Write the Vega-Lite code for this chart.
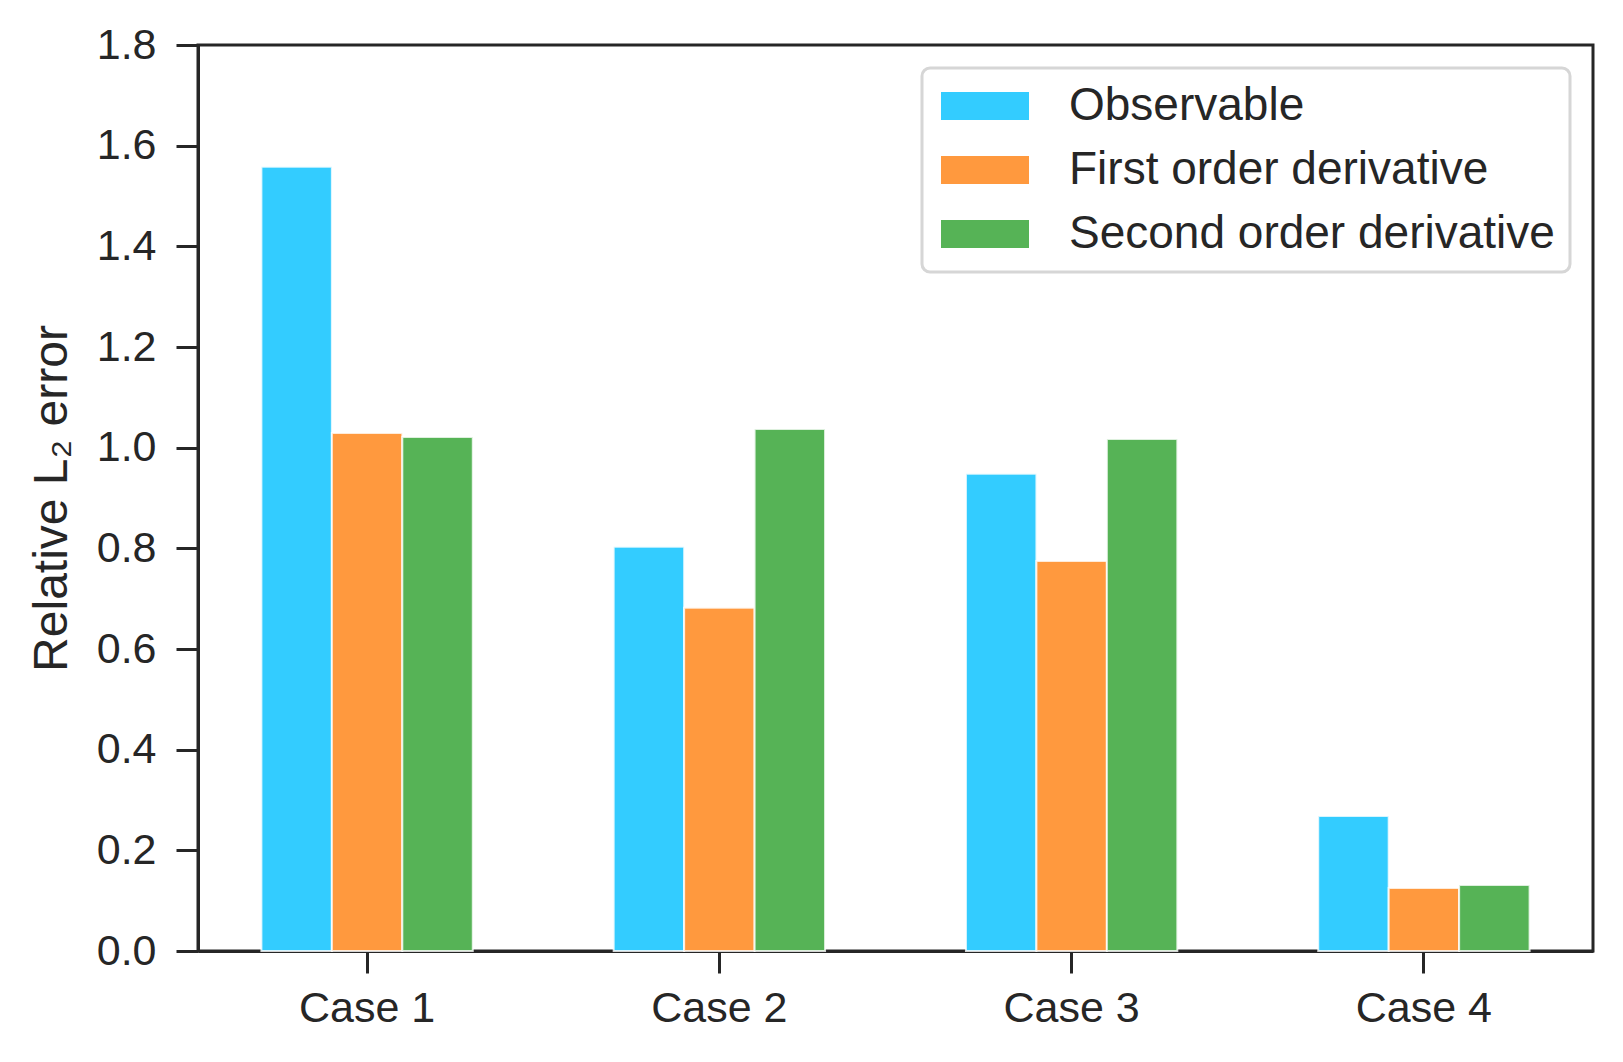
{
  "$schema": "https://vega.github.io/schema/vega-lite/v6.json",
  "width": 1395,
  "height": 906,
  "autosize": {"type": "none"},
  "padding": {"left": 198, "top": 45, "right": 30, "bottom": 111},
  "background": "white",
  "data": {
    "values": [
      {"case": "Case 1", "series": "Observable", "value": 1.558},
      {"case": "Case 1", "series": "First order derivative", "value": 1.029},
      {"case": "Case 1", "series": "Second order derivative", "value": 1.021},
      {"case": "Case 2", "series": "Observable", "value": 0.803},
      {"case": "Case 2", "series": "First order derivative", "value": 0.682},
      {"case": "Case 2", "series": "Second order derivative", "value": 1.037},
      {"case": "Case 3", "series": "Observable", "value": 0.948},
      {"case": "Case 3", "series": "First order derivative", "value": 0.775},
      {"case": "Case 3", "series": "Second order derivative", "value": 1.017},
      {"case": "Case 4", "series": "Observable", "value": 0.268},
      {"case": "Case 4", "series": "First order derivative", "value": 0.125},
      {"case": "Case 4", "series": "Second order derivative", "value": 0.131}
    ]
  },
  "mark": {"type": "bar", "stroke": "white", "strokeWidth": 2, "strokeOpacity": 0.8},
  "encoding": {
    "x": {
      "field": "case",
      "type": "nominal",
      "sort": ["Case 1", "Case 2", "Case 3", "Case 4"],
      "scale": {"paddingInner": 0.4, "paddingOuter": 0.18},
      "axis": {
        "title": null,
        "labelAngle": 0,
        "labelFontSize": 43,
        "labelPadding": 14,
        "tickSize": 22
      }
    },
    "xOffset": {
      "field": "series",
      "type": "nominal",
      "sort": ["Observable", "First order derivative", "Second order derivative"],
      "scale": {"paddingInner": 0, "paddingOuter": 0}
    },
    "y": {
      "field": "value",
      "type": "quantitative",
      "scale": {"domain": [0, 1.8], "nice": false},
      "axis": {
        "title": "Relative L₂ error",
        "values": [0, 0.2, 0.4, 0.6, 0.8, 1.0, 1.2, 1.4, 1.6, 1.8],
        "format": ".1f",
        "labelFontSize": 43,
        "labelPadding": 20,
        "tickSize": 22,
        "titleFontSize": 48,
        "titleFontWeight": "normal",
        "titlePadding": 20,
        "grid": false
      }
    },
    "color": {
      "field": "series",
      "type": "nominal",
      "sort": ["Observable", "First order derivative", "Second order derivative"],
      "scale": {
        "domain": ["Observable", "First order derivative", "Second order derivative"],
        "range": ["#33CCFF", "#FF993E", "#56B356"]
      },
      "legend": {
        "title": null,
        "orient": "none",
        "legendX": 724,
        "legendY": 23,
        "labelFontSize": 46,
        "labelLimit": 0,
        "labelOffset": 61,
        "symbolType": "M-3,-1H3V1H-3Z",
        "symbolSize": 900,
        "symbolOffset": 25,
        "symbolStrokeColor": "white",
        "symbolStrokeWidth": 2,
        "padding": 15,
        "rowPadding": 18,
        "strokeColor": "#D6D6D6",
        "cornerRadius": 8,
        "fillColor": "white",
        "encode": {
          "legend": {"update": {"strokeWidth": {"value": 3}}}
        }
      }
    }
  },
  "config": {
    "font": "Liberation Sans",
    "view": {"stroke": "#262626", "strokeWidth": 3},
    "axis": {
      "labelFont": "Liberation Sans",
      "titleFont": "Liberation Sans",
      "labelColor": "#262626",
      "titleColor": "#262626",
      "domainColor": "#262626",
      "domainWidth": 3,
      "tickColor": "#262626",
      "tickWidth": 3,
      "grid": false
    },
    "legend": {
      "labelFont": "Liberation Sans",
      "labelColor": "#262626"
    }
  }
}
